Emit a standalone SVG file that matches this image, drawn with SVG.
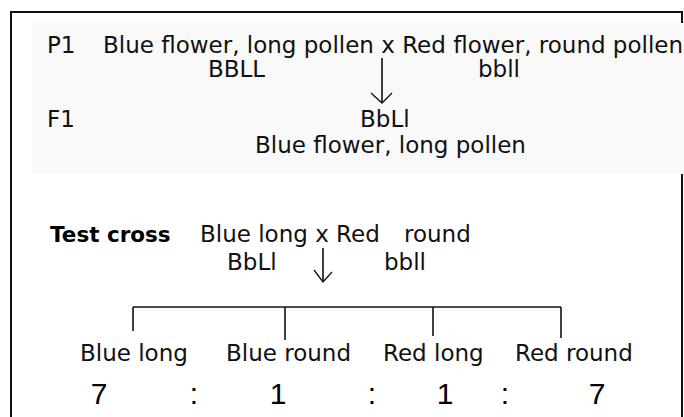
<svg xmlns="http://www.w3.org/2000/svg" width="684" height="417" viewBox="0 0 684 417">
<style>
  .t { font-family: "DejaVu Sans", Verdana, sans-serif; font-size: 23px; fill: #111; }
  .b { font-family: "DejaVu Sans", Verdana, sans-serif; font-size: 21.5px; font-weight: bold; fill: #000; }
  .n { font-family: "Liberation Sans", Arial, sans-serif; font-size: 30px; fill: #000; text-anchor: middle; }
  .ln { stroke: #111; stroke-width: 1.6; fill: none; }
  .ah { stroke: #111; stroke-width: 1.3; fill: none; }
</style>
<rect x="0" y="0" width="684" height="417" fill="#ffffff"/>
<rect id="frame" x="11" y="12" width="671" height="420" fill="none" stroke="#111" stroke-width="2"/>
<rect id="panel" x="32" y="23" width="652" height="151" fill="#f9f9f9"/>

<g id="p1">
  <text class="t" x="47" y="53">P1</text>
  <text class="t" x="103" y="53">Blue flower, long pollen x Red flower, round pollen</text>
  <text class="t" x="208" y="77">BBLL</text>
  <text class="t" x="478" y="77">bbll</text>
</g>
<g id="f1">
  <text class="t" x="47" y="127">F1</text>
  <text class="t" x="360" y="127">BbLl</text>
  <text class="t" x="255" y="153">Blue flower, long pollen</text>
</g>
<g id="testcross">
  <text class="b" x="50" y="242">Test cross</text>
  <text class="t" x="200" y="242">Blue long x Red</text>
  <text class="t" x="404" y="242">round</text>
  <text class="t" x="227" y="270">BbLl</text>
  <text class="t" x="384" y="270">bbll</text>
</g>
<g id="offspring">
  <text class="t" x="80" y="361">Blue long</text>
  <text class="t" x="226" y="361">Blue round</text>
  <text class="t" x="383" y="361">Red long</text>
  <text class="t" x="515" y="361">Red round</text>
</g>
<g id="ratio">
  <text class="n" x="99" y="404">7</text>
  <text class="n" x="194" y="404">:</text>
  <text class="n" x="278" y="404">1</text>
  <text class="n" x="372" y="404">:</text>
  <text class="n" x="445" y="404">1</text>
  <text class="n" x="505" y="404">:</text>
  <text class="n" x="597" y="404">7</text>
</g>
<g id="connectors">
  <line class="ln" x1="382" y1="58" x2="382" y2="103"/>
  <polyline class="ah" points="371,93 382,103 392,93"/>
  <line class="ln" x1="323" y1="248" x2="323" y2="282"/>
  <polyline class="ah" points="314,270 323,282 332,272"/>
  <line class="ln" x1="133" y1="307" x2="561" y2="307"/>
  <line class="ln" x1="133" y1="307" x2="133" y2="331"/>
  <line class="ln" x1="285" y1="307" x2="285" y2="340"/>
  <line class="ln" x1="433" y1="307" x2="433" y2="336"/>
  <line class="ln" x1="561" y1="307" x2="561" y2="338"/>
</g>
</svg>
